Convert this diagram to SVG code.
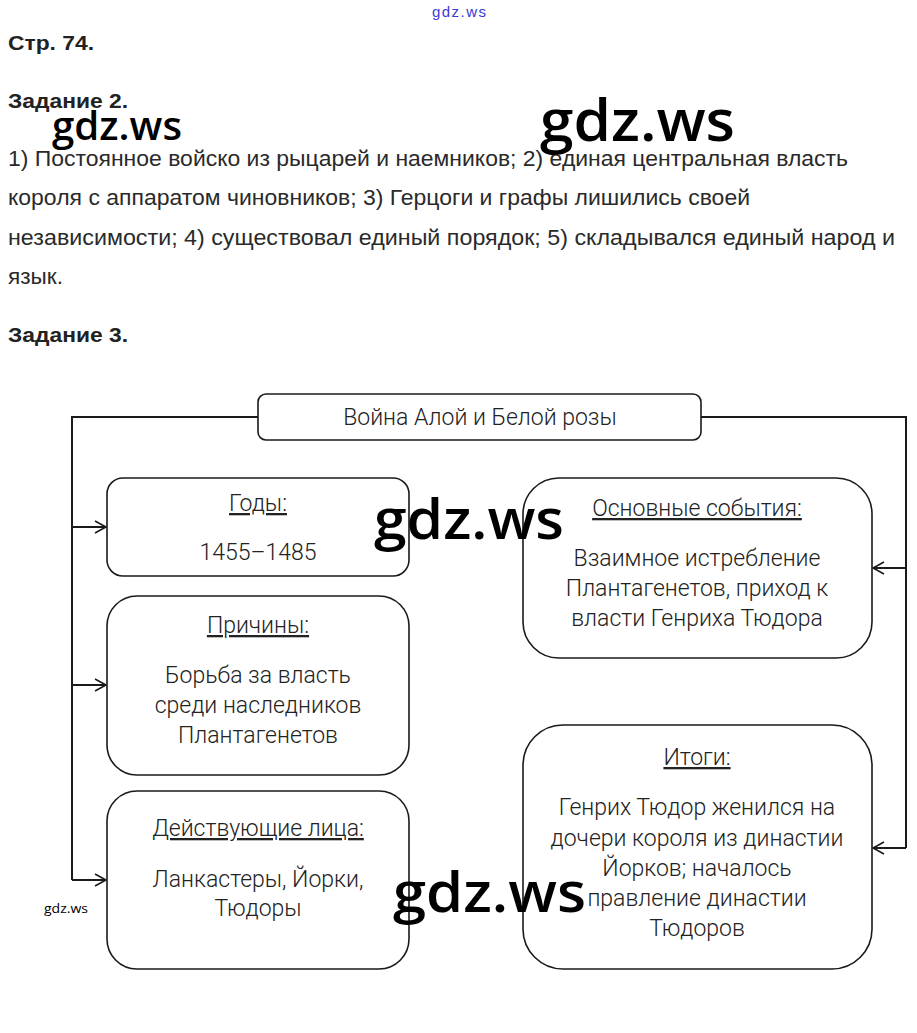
<svg xmlns="http://www.w3.org/2000/svg" width="917" height="1033" viewBox="0 0 917 1033">
<style>
.hd{font-family:"Liberation Sans",Arial,sans-serif;font-weight:bold;font-size:21px;fill:#222}
.p{font-family:"Liberation Sans",Arial,sans-serif;font-size:21.5px;fill:#2a2a2a}
.box{fill:#fff;stroke:#1a1a1a;stroke-width:1.6}
.t{font-family:Roboto,"Liberation Sans",sans-serif;font-weight:300;font-size:23px;fill:#222;text-anchor:middle}
.u{text-decoration:underline}
.wm{font-family:"Open Sans","Noto Sans",sans-serif;font-weight:600;fill:#000}
.wms{font-family:"Open Sans","Noto Sans",sans-serif;font-weight:400;font-size:13px;fill:#000}
.cn{fill:none;stroke:#1a1a1a;stroke-width:2}
</style>
<defs>
<marker id="ah" markerWidth="14" markerHeight="14" refX="12" refY="7" orient="auto" markerUnits="userSpaceOnUse">
<polyline points="1,1 12,7 1,13" fill="none" stroke="#1a1a1a" stroke-width="1.6"/>
</marker>
</defs>
<rect width="917" height="1033" fill="#fff"/>

<text x="432" y="17" font-family="Liberation Sans,Arial,sans-serif" font-size="15" fill="#3a3ad6" textLength="54">gdz.ws</text>
<text class="hd" x="8" y="50" textLength="86" lengthAdjust="spacingAndGlyphs">Стр. 74.</text>
<text class="hd" x="8" y="108" textLength="120" lengthAdjust="spacingAndGlyphs">Задание 2.</text>
<text class="p" x="8" y="166" textLength="840" lengthAdjust="spacingAndGlyphs">1) Постоянное войско из рыцарей и наемников; 2) единая центральная власть</text>
<text class="p" x="8" y="205" textLength="742" lengthAdjust="spacingAndGlyphs">короля с аппаратом чиновников; 3) Герцоги и графы лишились своей</text>
<text class="p" x="8" y="245" textLength="887" lengthAdjust="spacingAndGlyphs">независимости; 4) существовал единый порядок; 5) складывался единый народ и</text>
<text class="p" x="8" y="284" textLength="55" lengthAdjust="spacingAndGlyphs">язык.</text>
<text class="hd" x="8" y="342" textLength="120" lengthAdjust="spacingAndGlyphs">Задание 3.</text>

<g id="connectors">
<polyline class="cn" points="258,417 72,417 72,880"/>
<line class="cn" x1="72" y1="527" x2="106" y2="527" marker-end="url(#ah)"/>
<line class="cn" x1="72" y1="685" x2="106" y2="685" marker-end="url(#ah)"/>
<line class="cn" x1="72" y1="880" x2="106" y2="880" marker-end="url(#ah)"/>
<polyline class="cn" points="701,417 906,417 906,848"/>
<line class="cn" x1="906" y1="568" x2="873" y2="568" marker-end="url(#ah)"/>
<line class="cn" x1="906" y1="848" x2="873" y2="848" marker-end="url(#ah)"/>
</g>

<g id="title">
<rect class="box" x="258" y="394" width="443" height="46" rx="8"/>
<text class="t" x="480" y="425">Война Алой и Белой розы</text>
</g>

<g id="years">
<rect class="box" x="107" y="478" width="302" height="98" rx="16"/>
<text class="t u" x="258" y="511">Годы:</text>
<text class="t" x="258" y="560">1455–1485</text>
</g>

<g id="causes">
<rect class="box" x="107" y="596" width="302" height="179" rx="30"/>
<text class="t u" x="258" y="633">Причины:</text>
<text class="t" x="258" y="683">Борьба за власть</text>
<text class="t" x="258" y="713">среди наследников</text>
<text class="t" x="258" y="743">Плантагенетов</text>
</g>

<g id="persons">
<rect class="box" x="107" y="791" width="302" height="178" rx="30"/>
<text class="t u" x="258" y="836">Действующие лица:</text>
<text class="t" x="258" y="887">Ланкастеры, Йорки,</text>
<text class="t" x="258" y="916">Тюдоры</text>
</g>

<g id="events">
<rect class="box" x="523" y="478" width="349" height="180" rx="36"/>
<text class="t u" x="697" y="516">Основные события:</text>
<text class="t" x="697" y="566">Взаимное истребление</text>
<text class="t" x="697" y="596">Плантагенетов, приход к</text>
<text class="t" x="697" y="626">власти Генриха Тюдора</text>
</g>

<g id="results">
<rect class="box" x="523" y="725" width="349" height="244" rx="40"/>
<text class="t u" x="697" y="765">Итоги:</text>
<text class="t" x="697" y="815">Генрих Тюдор женился на</text>
<text class="t" x="697" y="846">дочери короля из династии</text>
<text class="t" x="697" y="876">Йорков; началось</text>
<text class="t" x="697" y="906">правление династии</text>
<text class="t" x="697" y="936">Тюдоров</text>
</g>

<text class="wm" x="52" y="140" font-size="40" textLength="130" lengthAdjust="spacingAndGlyphs">gdz.ws</text>
<text class="wm" x="540" y="141" font-size="58" textLength="195" lengthAdjust="spacingAndGlyphs">gdz.ws</text>
<text class="wm" x="374" y="539" font-size="56" textLength="190" lengthAdjust="spacingAndGlyphs">gdz.ws</text>
<text class="wm" x="393" y="912" font-size="56" textLength="193" lengthAdjust="spacingAndGlyphs">gdz.ws</text>
<text class="wms" x="44" y="913" textLength="44" lengthAdjust="spacingAndGlyphs">gdz.ws</text>
</svg>
